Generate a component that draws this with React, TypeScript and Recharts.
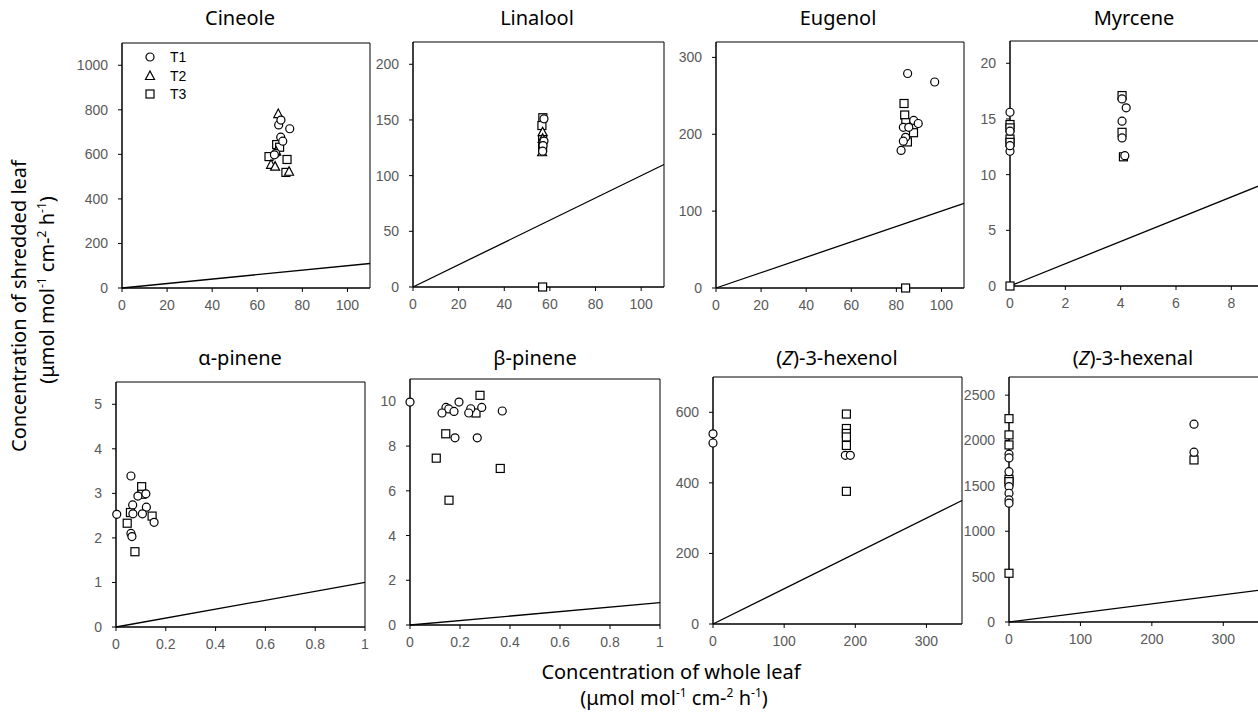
import React from "react";
import { ScatterChart, Scatter, XAxis, YAxis, ReferenceLine, ReferenceArea, Legend } from "recharts";

type Pt = [number, number];

// values: [whole leaf, shredded leaf]
const cineoleT1: Pt[] = [[69.5, 732], [70.5, 754], [74.4, 715], [70.4, 677], [71.3, 659], [68.2, 604], [67.6, 598]];
const cineoleT2: Pt[] = [[69.3, 781], [66.1, 553], [67.9, 545], [74.1, 522], [68.4, 612]];
const cineoleT3: Pt[] = [[68.6, 644], [69.9, 632], [65.2, 590], [73.2, 577], [72.7, 519]];

const linaloolT1: Pt[] = [[57.4, 151], [57.4, 131], [57, 127], [56.8, 122]];
const linaloolT2: Pt[] = [[56.8, 139], [56.6, 121], [56.8, 133]];
const linaloolT3: Pt[] = [[56.9, 152], [56.5, 145], [56.8, 133], [56.8, 125], [56.8, 0]];

const eugenolT1: Pt[] = [[85, 279], [97, 268], [87.7, 218], [89.7, 214], [83.1, 209], [85.5, 209], [84.1, 196], [83.1, 191], [82.1, 179]];
const eugenolT2: Pt[] = [];
const eugenolT3: Pt[] = [[83.4, 240], [83.7, 225], [84.2, 215], [87.6, 202], [84.9, 190], [84.1, 0]];

const myrceneT1: Pt[] = [[0, 15.6], [0, 13.9], [0, 12.1], [0, 12.6], [4.05, 16.8], [4.2, 16.0], [4.05, 14.8], [4.05, 13.3], [4.15, 11.7]];
const myrceneT2: Pt[] = [];
const myrceneT3: Pt[] = [[0, 14.5], [0, 14.2], [0, 13.2], [0, 12.9], [0, 0], [4.05, 17.1], [4.05, 13.8], [4.1, 11.6]];

const aPineneT1: Pt[] = [[0.003, 2.53], [0.06, 3.39], [0.088, 2.94], [0.12, 2.99], [0.067, 2.74], [0.122, 2.69], [0.068, 2.54], [0.106, 2.54], [0.153, 2.35], [0.06, 2.1], [0.064, 2.03]];
const aPineneT2: Pt[] = [];
const aPineneT3: Pt[] = [[0.103, 3.15], [0.104, 2.98], [0.058, 2.57], [0.145, 2.49], [0.045, 2.33], [0.076, 1.69]];

const bPineneT1: Pt[] = [[0, 9.97], [0.196, 9.97], [0.144, 9.73], [0.155, 9.66], [0.128, 9.48], [0.176, 9.55], [0.243, 9.67], [0.235, 9.48], [0.287, 9.73], [0.369, 9.57], [0.18, 8.37], [0.269, 8.37]];
const bPineneT2: Pt[] = [];
const bPineneT3: Pt[] = [[0.28, 10.27], [0.264, 9.48], [0.143, 8.55], [0.105, 7.46], [0.361, 7.0], [0.156, 5.58]];

const hexenolT1: Pt[] = [[0, 539], [0, 513], [186, 478], [193, 478]];
const hexenolT2: Pt[] = [];
const hexenolT3: Pt[] = [[187.5, 595], [187.5, 554], [187.5, 540], [187.5, 530], [187.5, 506], [187.5, 376]];

const hexenalT1: Pt[] = [[0, 1849], [0, 1808], [0, 1657], [0, 1492], [0, 1419], [0, 1345], [0, 1309], [259, 2180], [259, 1871]];
const hexenalT2: Pt[] = [];
const hexenalT3: Pt[] = [[0, 2241], [0, 2062], [0, 1951], [0, 1573], [0, 1547], [0, 537], [259, 1786]];

const ticks0to100 = [0, 20, 40, 60, 80, 100];
const ticks0to1 = [0, 0.2, 0.4, 0.6, 0.8, 1];
const ticks0to300 = [0, 100, 200, 300];

const TICK_FONT = "'Liberation Sans', Arial, sans-serif";
const TEXT_FONT = "'Noto Sans', 'DejaVu Sans', sans-serif";

const toXY = (pts: Pt[]) => pts.map(([x, y]) => ({ x, y }));

const Circle = (p: any) => <circle cx={p.cx} cy={p.cy} r={4} fill="#fff" stroke="#000" strokeWidth={1.2} />;
const Square = (p: any) => <rect x={p.cx - 4} y={p.cy - 4} width={8} height={8} fill="#fff" stroke="#000" strokeWidth={1.2} />;
const Triangle = (p: any) => (
  <polygon
    points={`${p.cx},${p.cy - 5} ${p.cx + 4.5},${p.cy + 3.5} ${p.cx - 4.5},${p.cy + 3.5}`}
    fill="#fff"
    stroke="#000"
    strokeWidth={1.2}
  />
);

const legendRows = [
  { name: "T1", Shape: Circle },
  { name: "T2", Shape: Triangle },
  { name: "T3", Shape: Square },
];

function LegendBox() {
  return (
    <div>
      {legendRows.map(({ name, Shape }) => (
        <div key={name} style={{ display: "flex", alignItems: "center", height: 18.5 }}>
          <svg width={16} height={18}>
            <Shape cx={8} cy={9} />
          </svg>
          <span style={{ marginLeft: 12, fontFamily: TICK_FONT, fontSize: 14, color: "#000" }}>{name}</span>
        </div>
      ))}
    </div>
  );
}

interface Panel {
  title: React.ReactNode;
  left: number;
  top: number;
  w: number;
  h: number;
  xMax: number;
  yMax: number;
  xTicks: number[];
  yTicks: number[];
  t1: Pt[];
  t2: Pt[];
  t3: Pt[];
  titleX: number;
  titleY: number;
  legend?: boolean;
}

const Z = <i>Z</i>;

const panels: Panel[] = [
  { title: "Cineole", left: 122, top: 43, w: 248, h: 245, xMax: 110, yMax: 1100, xTicks: ticks0to100, yTicks: [0, 200, 400, 600, 800, 1000], t1: cineoleT1, t2: cineoleT2, t3: cineoleT3, titleX: 240, titleY: 17, legend: true },
  { title: "Linalool", left: 413, top: 42, w: 251, h: 245, xMax: 110, yMax: 220, xTicks: ticks0to100, yTicks: [0, 50, 100, 150, 200], t1: linaloolT1, t2: linaloolT2, t3: linaloolT3, titleX: 537, titleY: 17 },
  { title: "Eugenol", left: 716, top: 42, w: 248, h: 246, xMax: 110, yMax: 320, xTicks: ticks0to100, yTicks: [0, 100, 200, 300], t1: eugenolT1, t2: eugenolT2, t3: eugenolT3, titleX: 838, titleY: 17 },
  { title: "Myrcene", left: 1010, top: 41, w: 249, h: 245, xMax: 9, yMax: 22, xTicks: [0, 2, 4, 6, 8], yTicks: [0, 5, 10, 15, 20], t1: myrceneT1, t2: myrceneT2, t3: myrceneT3, titleX: 1134, titleY: 17 },
  { title: "α-pinene", left: 116, top: 382, w: 249, h: 245, xMax: 1, yMax: 5.5, xTicks: ticks0to1, yTicks: [0, 1, 2, 3, 4, 5], t1: aPineneT1, t2: aPineneT2, t3: aPineneT3, titleX: 240, titleY: 357 },
  { title: "β-pinene", left: 410, top: 379, w: 250, h: 246, xMax: 1, yMax: 11, xTicks: ticks0to1, yTicks: [0, 2, 4, 6, 8, 10], t1: bPineneT1, t2: bPineneT2, t3: bPineneT3, titleX: 535, titleY: 357 },
  { title: <>({Z})-3-hexenol</>, left: 713, top: 377, w: 249, h: 247, xMax: 350, yMax: 700, xTicks: ticks0to300, yTicks: [0, 200, 400, 600], t1: hexenolT1, t2: hexenolT2, t3: hexenolT3, titleX: 837, titleY: 357 },
  { title: <>({Z})-3-hexenal</>, left: 1009, top: 377, w: 250, h: 245, xMax: 350, yMax: 2700, xTicks: ticks0to300, yTicks: [0, 500, 1000, 1500, 2000, 2500], t1: hexenalT1, t2: hexenalT2, t3: hexenalT3, titleX: 1133, titleY: 357 },
];

const Y_W = 56;
const X_H = 34;
const M_TOP = 8;
const M_RIGHT = 6;

function PanelChart({ p }: { p: Panel }) {
  const one = Math.min(p.xMax, p.yMax);
  const tick = { fill: "#595959", fontSize: 14, fontFamily: TICK_FONT };
  return (
    <div style={{ position: "absolute", left: p.left - Y_W, top: p.top - M_TOP }}>
      <ScatterChart
        width={p.w + Y_W + M_RIGHT}
        height={p.h + M_TOP + X_H}
        margin={{ top: M_TOP, right: M_RIGHT, bottom: 0, left: 0 }}
      >
        <XAxis
          type="number"
          dataKey="x"
          domain={[0, p.xMax]}
          ticks={p.xTicks}
          height={X_H}
          tickSize={4}
          tickMargin={8}
          stroke="#000"
          tick={tick}
        />
        <YAxis
          type="number"
          dataKey="y"
          domain={[0, p.yMax]}
          ticks={p.yTicks}
          width={Y_W}
          tickSize={4}
          tickMargin={10}
          stroke="#000"
          tick={tick}
        />
        <ReferenceArea x1={0} x2={p.xMax} y1={0} y2={p.yMax} fill="none" stroke="#000" strokeWidth={1} />
        <ReferenceLine segment={[{ x: 0, y: 0 }, { x: one, y: one }]} stroke="#000" strokeWidth={1.3} />
        <Scatter name="T3" data={toXY(p.t3)} shape={Square} isAnimationActive={false} />
        <Scatter name="T2" data={toXY(p.t2)} shape={Triangle} isAnimationActive={false} />
        <Scatter name="T1" data={toXY(p.t1)} shape={Circle} isAnimationActive={false} />
        {p.legend && (
          <Legend
            layout="vertical"
            align="center"
            verticalAlign="middle"
            wrapperStyle={{ left: Y_W + 20, top: 13, width: 60, height: 60 }}
            content={() => <LegendBox />}
          />
        )}
      </ScatterChart>
    </div>
  );
}

const labelStyle: React.CSSProperties = {
  position: "absolute",
  whiteSpace: "nowrap",
  fontFamily: TEXT_FONT,
  color: "#000",
};

const unit = (
  <>
    (μmol mol<sup style={{ fontSize: "0.6em" }}>-1</sup> cm-<sup style={{ fontSize: "0.6em" }}>2</sup> h<sup style={{ fontSize: "0.6em" }}>-1</sup>)
  </>
);

export default function App() {
  return (
    <div style={{ position: "absolute", left: 0, top: 0, width: 1258, height: 722, overflow: "hidden", background: "#fff" }}>
      {panels.map((p, i) => (
        <React.Fragment key={i}>
          <div style={{ ...labelStyle, left: p.titleX, top: p.titleY, fontSize: 20, transform: "translate(-50%, -50%)" }}>{p.title}</div>
          <PanelChart p={p} />
        </React.Fragment>
      ))}
      <div style={{ ...labelStyle, left: 18, top: 306, fontSize: 20, transform: "translate(-50%, -50%) rotate(-90deg)" }}>
        Concentration of shredded leaf
      </div>
      <div style={{ ...labelStyle, left: 46, top: 290, fontSize: 20, transform: "translate(-50%, -50%) rotate(-90deg)" }}>
        {unit}
      </div>
      <div style={{ ...labelStyle, left: 671, top: 671, fontSize: 20, transform: "translate(-50%, -50%)" }}>
        Concentration of whole leaf
      </div>
      <div style={{ ...labelStyle, left: 674, top: 697, fontSize: 20, transform: "translate(-50%, -50%)" }}>
        {unit}
      </div>
    </div>
  );
}
